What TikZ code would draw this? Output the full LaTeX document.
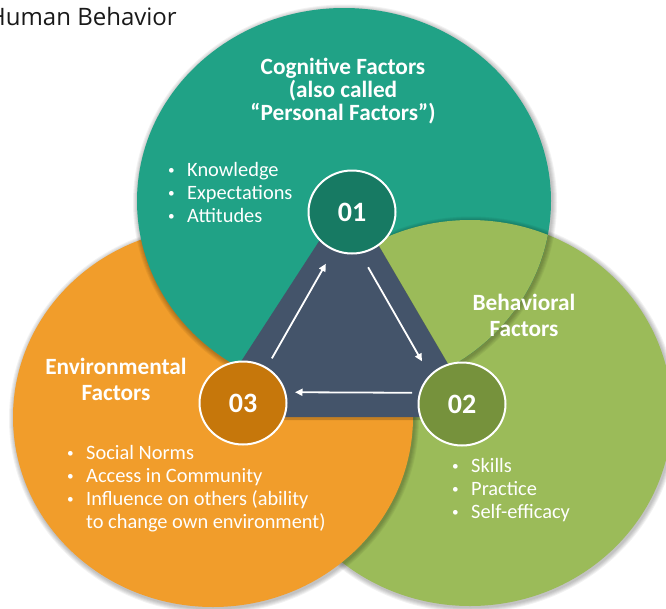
\documentclass[tikz,border=0pt]{standalone}
\usepackage{fontspec}
\usepackage{graphicx}
\setmainfont{Carlito}
\newfontfamily\titlefont{Open Sans}
\usetikzlibrary{shapes.geometric,arrows.meta,calc}
\definecolor{tealA}{RGB}{32,162,134}
\definecolor{tealB}{RGB}{23,122,99}
\definecolor{greenA}{RGB}{155,187,89}
\definecolor{greenB}{RGB}{118,146,60}
\definecolor{orangeA}{RGB}{241,157,43}
\definecolor{orangeB}{RGB}{198,119,11}
\definecolor{slate}{RGB}{68,84,106}
\definecolor{ink}{RGB}{25,25,25}
\newcommand\softshadow[4]{%
  \foreach \k in {1,...,5}{\fill[black,opacity=0.05] (#1+1,#2+1.5) ellipse [x radius=#3pt+\k pt, y radius=#4pt+\k pt];}}
\newcommand\bitem[1]{\makebox[19pt][l]{\raisebox{1.6pt}{\scalebox{0.65}{\textbullet}}}#1}
\tikzset{
  head/.style={text=white, font=\bfseries\fontsize{23.3}{25}\selectfont, inner sep=0pt, anchor=base},
  blist/.style={text=white, font=\fontsize{20.4}{23}\selectfont, inner sep=0pt, anchor=base west},
  numc/.style={ellipse, draw=white, line width=2pt, minimum width=87pt, minimum height=83pt, inner sep=0pt, text=white, font=\bfseries\fontsize{28}{30}\selectfont},
  arrowline/.style={draw=white, line width=1.8pt, -{Triangle[length=7.5pt,width=7pt]}},
  titletext/.style={text=ink, font=\titlefont\fontsize{24}{28}\selectfont, inner sep=0pt, anchor=base west}
}
\begin{document}
\begin{tikzpicture}[x=1pt,y=-1pt]
\clip (0,0) rectangle (666,608);
\fill[white] (0,0) rectangle (666,608);
% big overlapping shapes (cyclic overlap)
\softshadow{470}{413}{202}{193}
\fill[greenA] (470,413) ellipse [x radius=202pt, y radius=193pt];
\softshadow{213}{417}{200}{190}
\fill[orangeA] (213,417) ellipse [x radius=200pt, y radius=190pt];
\softshadow{344}{201}{207}{193}
\fill[tealA] (344,201) ellipse [x radius=207pt, y radius=193pt];
\begin{scope}
  \clip (344,201) ellipse [x radius=207pt, y radius=193pt];
  \softshadow{470}{413}{202}{193}
  \fill[greenA] (470,413) ellipse [x radius=202pt, y radius=193pt];
\end{scope}
% central triangle
\fill[black,opacity=0.18] (351,198) -- (207,420) -- (481,420) -- cycle;
\fill[slate] (349,195) -- (205,417) -- (479,417) -- cycle;
% number circles
\node[numc, fill=tealB] (n1) at (352,212) {01};
\node[numc, fill=greenB] (n2) at (462,404) {02};
\node[numc, fill=orangeB] (n3) at (243,403) {03};
% arrows
\draw[arrowline, shorten <=53pt, shorten >=58pt, transform canvas={shift={(2.6pt,-1.4pt)}}] (n3.center) -- (n1.center);
\draw[arrowline, shorten <=56pt, shorten >=57pt, transform canvas={shift={(-11.7pt,-6.7pt)}}] (n1.center) -- (n2.center);
\draw[arrowline, shorten <=50pt, shorten >=52pt, transform canvas={shift={(0pt,11pt)}}] (n2.center) -- (n3.center);
% title
\node[titletext] (title) at (-12,25) {Human Behavior};
% headings
\node[head] (cg1) at (343,74) {Cognitive Factors};
\node[head] (cg2) at (343,97) {(also called};
\node[head] (cg3) at (343,120) {“Personal Factors”)};
\node[head] (bh1) at (524,310) {Behavioral};
\node[head] (bh2) at (524,336) {Factors};
\node[head] (ev1) at (116,374) {Environmental};
\node[head] (ev2) at (116,400) {Factors};
% bullet lists
\node[blist] (c1) at (168,176) {\bitem{Knowledge}};
\node[blist] (c2) at (168,199) {\bitem{Expectations}};
\node[blist] (c3) at (168,222) {\bitem{Attitudes}};
\node[blist] (b1) at (452,472) {\bitem{Skills}};
\node[blist] (b2) at (452,495) {\bitem{Practice}};
\node[blist] (b3) at (452,518) {\bitem{Self-efficacy}};
\node[blist] (e1) at (67,459) {\bitem{Social Norms}};
\node[blist] (e2) at (67,482) {\bitem{Access in Community}};
\node[blist] (e3) at (67,505) {\bitem{Influence on others (ability}};
\node[blist] (e4) at (67,528) {\hspace*{19pt}to change own environment)};
\end{tikzpicture}
\end{document}
